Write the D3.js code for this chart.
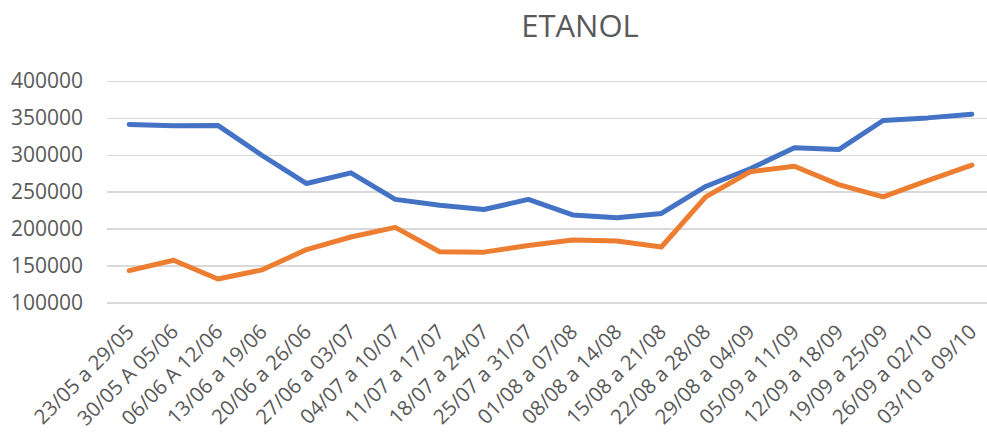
<!DOCTYPE html>
<meta charset="utf-8">
<style>
    body {
        margin: 0;
        background: #fff;
        font-family: "Open Sans", sans-serif;
    }
    .grid line {
        stroke: #d9d9d9;
        stroke-width: 1.5px;
        shape-rendering: crispEdges;
    }
    .grid path {
        stroke-width: 0;
    }
    .axis text {
        fill: #595959;
        font-family: "Open Sans", sans-serif;
    }
    .axis path, .axis line {
        display: none;
    }
    .line {
        fill: none;
        stroke-width: 5px;
        stroke-linecap: round;
        stroke-linejoin: round;
    }
</style>

<svg width="987" height="432"></svg>

<script src="https://cdn.jsdelivr.net/npm/d3@7"></script>
<script>

    // weekly periods
    var weeks = ["23/05 a 29/05", "30/05 A 05/06", "06/06 A 12/06", "13/06 a 19/06", "20/06 a 26/06",
        "27/06 a 03/07", "04/07 a 10/07", "11/07 a 17/07", "18/07 a 24/07", "25/07 a 31/07",
        "01/08 a 07/08", "08/08 a 14/08", "15/08 a 21/08", "22/08 a 28/08", "29/08 a 04/09",
        "05/09 a 11/09", "12/09 a 18/09", "19/09 a 25/09", "26/09 a 02/10", "03/10 a 09/10"];

    var serieAzul = [341000, 339500, 339800, 299000, 261000, 275500, 239500, 231500, 225800, 239500,
        218500, 214500, 220500, 257000, 281000, 309500, 307000, 346500, 350000, 355000];

    var serieLaranja = [143000, 157000, 131500, 144000, 171500, 188500, 201500, 168500, 168000, 177000,
        184500, 183000, 175000, 243000, 277000, 284500, 259500, 243000, 265000, 286000];

    var yTicks = [100000, 150000, 200000, 250000, 300000, 350000, 400000];

    var svg = d3.select("svg");

    var x = d3.scalePoint().domain(weeks).range([107, 994]).padding(0.5),
        y = d3.scaleLinear().domain([100000, 400000]).range([302.3, 81]);

    // title
    svg.append("text")
        .attr("x", 580)
        .attr("y", 37)
        .attr("text-anchor", "middle")
        .style("font-size", "31px")
        .style("fill", "#595959")
        .text("ETANOL");

    // horizontal gridlines
    svg.append("g")
        .attr("class", "grid")
        .attr("transform", "translate(107,0)")
        .call(d3.axisLeft(y).tickValues(yTicks).tickSize(-887).tickFormat(""));

    // y axis labels
    svg.append("g")
        .attr("class", "axis")
        .attr("transform", "translate(107,0)")
        .call(d3.axisLeft(y).tickValues(yTicks).tickSize(0).tickPadding(24).tickFormat(d3.format("d")))
        .selectAll("text")
        .style("font-size", "21px");

    // x axis labels, rotated
    svg.append("g")
        .attr("class", "axis")
        .selectAll("text")
        .data(weeks)
        .enter().append("text")
        .attr("transform", function(d) { return "translate(" + (x(d) + 1) + ",328) rotate(-45)"; })
        .attr("text-anchor", "end")
        .attr("dy", "0.35em")
        .style("font-size", "20.5px")
        .text(function(d) { return d; });

    var line = d3.line()
        .x(function(d, i) { return x(weeks[i]); })
        .y(function(d) { return y(d); });

    svg.append("path")
        .datum(serieAzul)
        .attr("class", "line")
        .style("stroke", "#4472c4")
        .attr("d", line);

    svg.append("path")
        .datum(serieLaranja)
        .attr("class", "line")
        .style("stroke", "#ed7d31")
        .attr("d", line);

</script>
